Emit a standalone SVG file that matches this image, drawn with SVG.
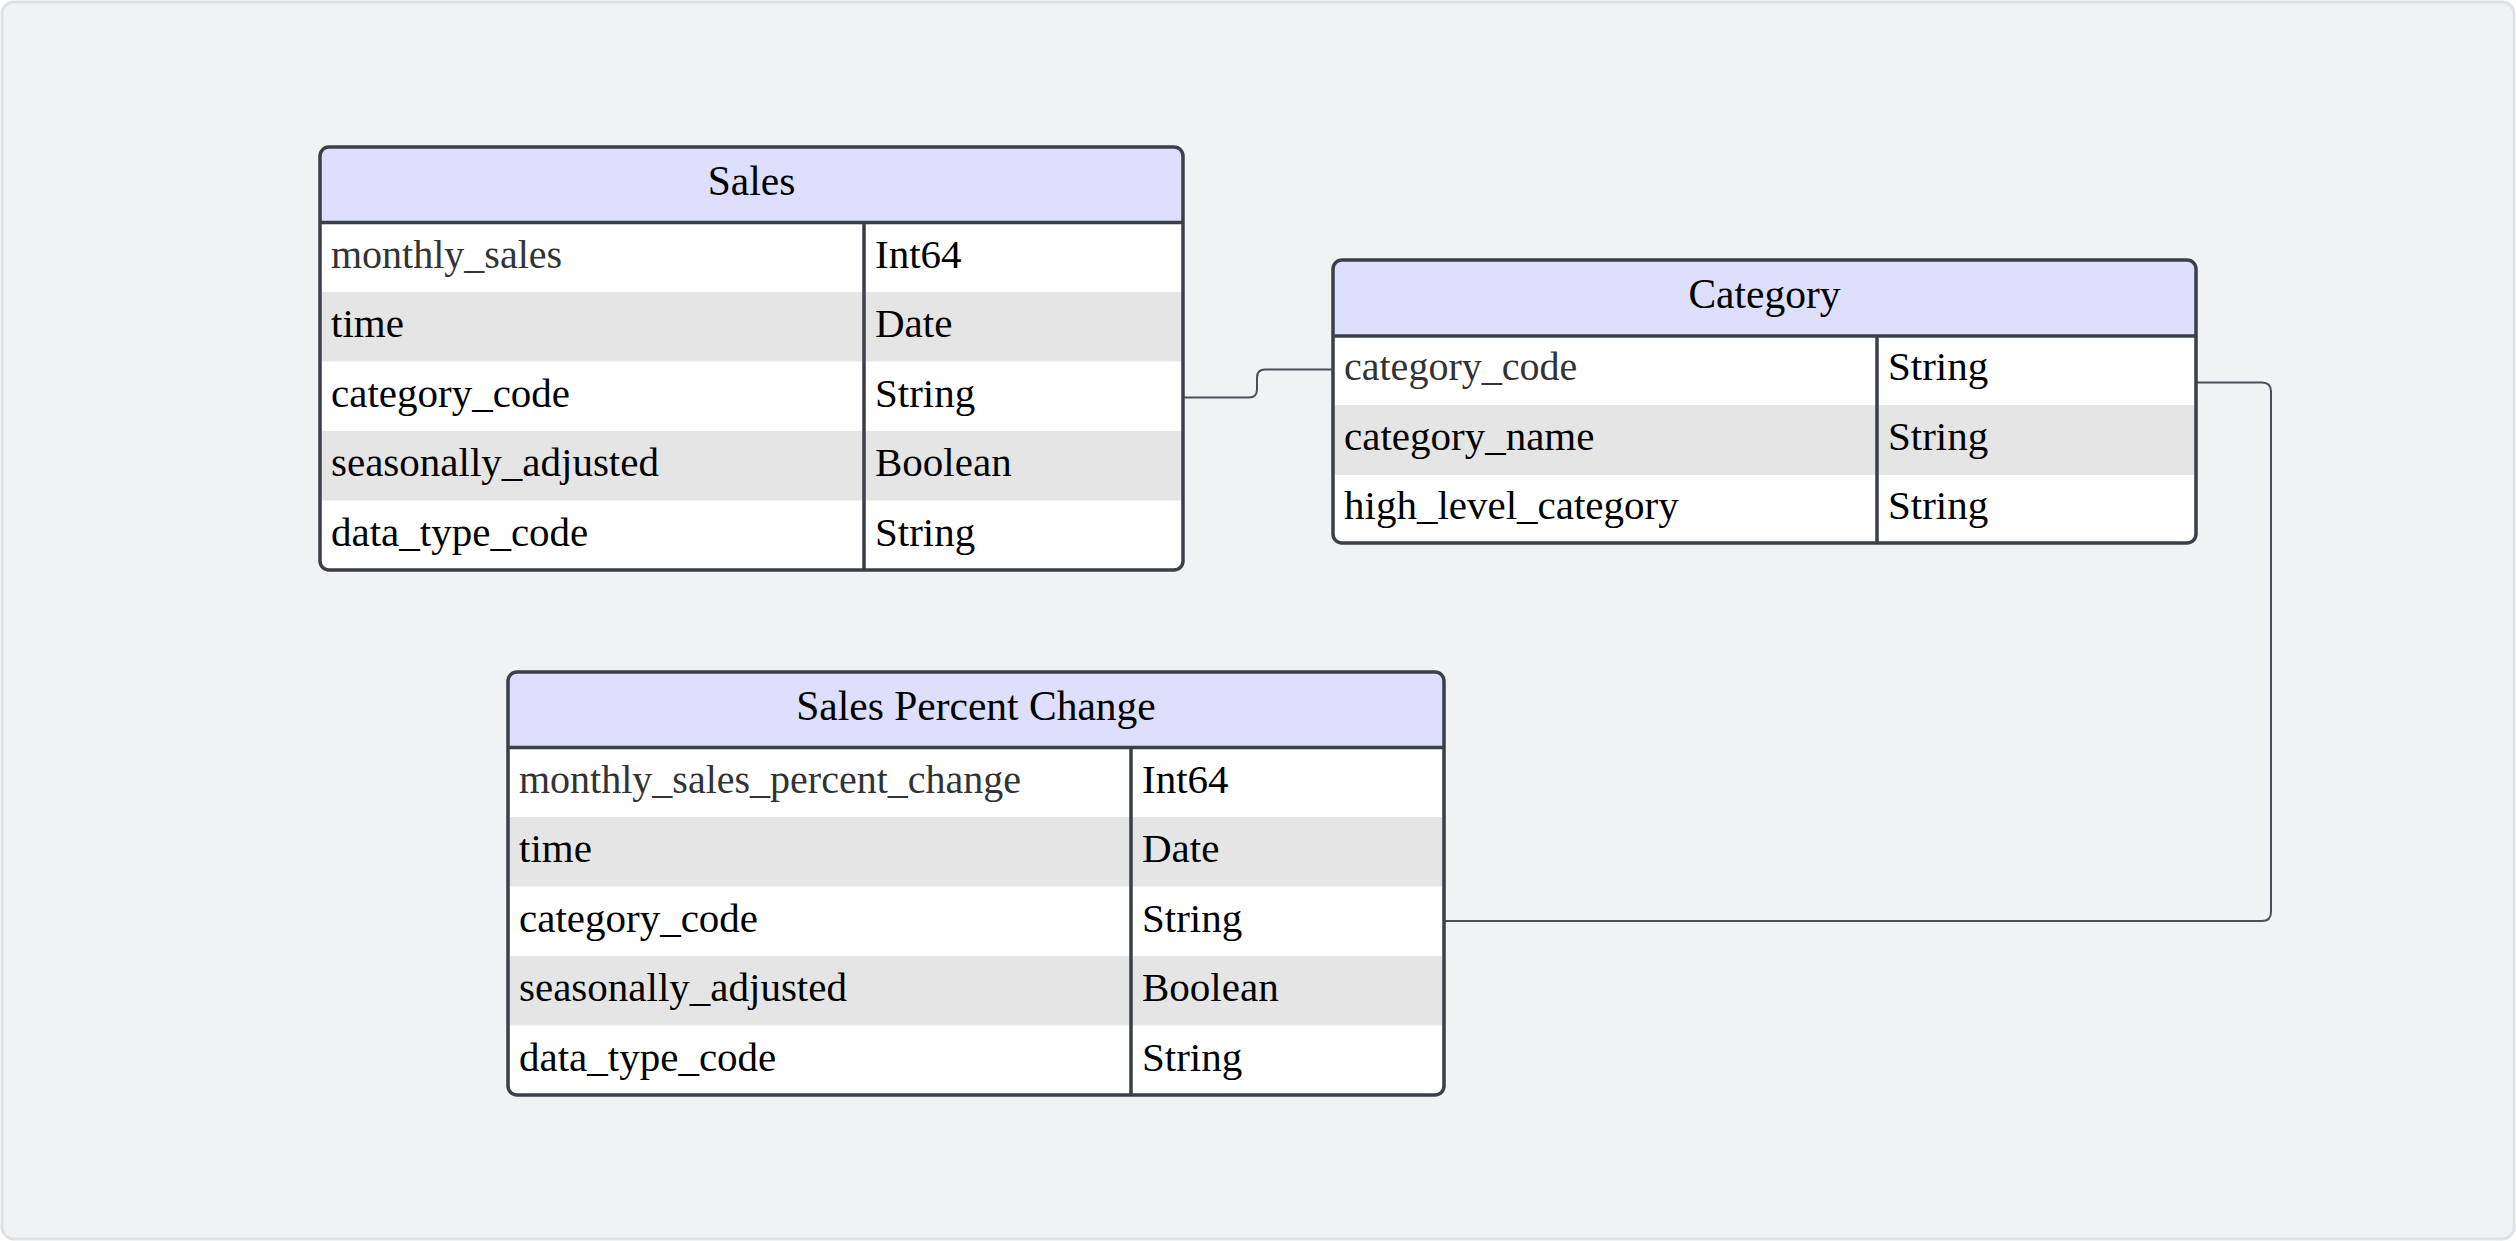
<svg xmlns="http://www.w3.org/2000/svg" width="2516" height="1241" viewBox="0 0 2516 1241">
<style>
.bg{fill:#f1f2f4;stroke:#dfe1e6;stroke-width:3}
.body{fill:#ffffff}
.hdr{fill:#dddffc}
.alt{fill:#e5e5e5}
.frame{fill:none;stroke:#3b3f48;stroke-width:3.5}
.div{stroke:#3b3f48;stroke-width:3.5}
.t{font-size:41px;fill:#000}
.pk{font-size:40px;fill:#333}
.h{font-size:41.5px;fill:#000;text-anchor:middle}
.conn{fill:none;stroke:#4b4f58;stroke-width:2}
</style>
<rect x="0" y="0" width="2516" height="1241" fill="#ffffff"/>
<rect class="bg" x="2" y="2" width="2512" height="1237" rx="12"/>

<g id="connectors">
<path class="conn" d="M1183,397.5 H1249 Q1257,397.5 1257,389.5 V377.5 Q1257,369.5 1265,369.5 H1333"/>
<path class="conn" d="M2196,382.5 H2262 Q2271,382.5 2271,391.5 V912 Q2271,921 2262,921 H1444"/>
</g>

<g id="sales" font-family="Liberation Serif, Tinos, Times New Roman, Times, DejaVu Serif, serif">
<rect class="body" x="320" y="147" width="863" height="423" rx="9"/>
<path class="hdr" d="M320,222.5 V156 Q320,147 329,147 H1174 Q1183,147 1183,156 V222.5 Z"/>
<rect class="alt" x="320" y="292" width="863" height="69.5"/>
<rect class="alt" x="320" y="431" width="863" height="69.5"/>
<line class="div" x1="320" y1="222.5" x2="1183" y2="222.5"/>
<line class="div" x1="864" y1="222.5" x2="864" y2="570"/>
<rect class="frame" x="320" y="147" width="863" height="423" rx="9"/>
<text class="h" x="751.5" y="194.5">Sales</text>
<text class="t pk" x="331" y="267.5">monthly_sales</text><text class="t" x="875" y="267.5">Int64</text>
<text class="t" x="331" y="336.5">time</text><text class="t" x="875" y="336.5">Date</text>
<text class="t" x="331" y="406.5">category_code</text><text class="t" x="875" y="406.5">String</text>
<text class="t" x="331" y="475.5">seasonally_adjusted</text><text class="t" x="875" y="475.5">Boolean</text>
<text class="t" x="331" y="545.5">data_type_code</text><text class="t" x="875" y="545.5">String</text>
</g>

<g id="category" font-family="Liberation Serif, Tinos, Times New Roman, Times, DejaVu Serif, serif">
<rect class="body" x="1333" y="260" width="863" height="283" rx="9"/>
<path class="hdr" d="M1333,336 V269 Q1333,260 1342,260 H2187 Q2196,260 2196,269 V336 Z"/>
<rect class="alt" x="1333" y="405" width="863" height="70"/>
<line class="div" x1="1333" y1="336" x2="2196" y2="336"/>
<line class="div" x1="1877" y1="336" x2="1877" y2="543"/>
<rect class="frame" x="1333" y="260" width="863" height="283" rx="9"/>
<text class="h" x="1764.5" y="307.5">Category</text>
<text class="t pk" x="1344" y="379.5">category_code</text><text class="t" x="1888" y="379.5">String</text>
<text class="t" x="1344" y="449.5">category_name</text><text class="t" x="1888" y="449.5">String</text>
<text class="t" x="1344" y="518.5">high_level_category</text><text class="t" x="1888" y="518.5">String</text>
</g>

<g id="sales_percent_change" font-family="Liberation Serif, Tinos, Times New Roman, Times, DejaVu Serif, serif">
<rect class="body" x="508" y="672" width="936" height="423" rx="9"/>
<path class="hdr" d="M508,747.5 V681 Q508,672 517,672 H1435 Q1444,672 1444,681 V747.5 Z"/>
<rect class="alt" x="508" y="817" width="936" height="69.5"/>
<rect class="alt" x="508" y="956" width="936" height="69.5"/>
<line class="div" x1="508" y1="747.5" x2="1444" y2="747.5"/>
<line class="div" x1="1131" y1="747.5" x2="1131" y2="1095"/>
<rect class="frame" x="508" y="672" width="936" height="423" rx="9"/>
<text class="h" x="976" y="719.5">Sales Percent Change</text>
<text class="t pk" x="519" y="792.5">monthly_sales_percent_change</text><text class="t" x="1142" y="792.5">Int64</text>
<text class="t" x="519" y="861.5">time</text><text class="t" x="1142" y="861.5">Date</text>
<text class="t" x="519" y="931.5">category_code</text><text class="t" x="1142" y="931.5">String</text>
<text class="t" x="519" y="1000.5">seasonally_adjusted</text><text class="t" x="1142" y="1000.5">Boolean</text>
<text class="t" x="519" y="1070.5">data_type_code</text><text class="t" x="1142" y="1070.5">String</text>
</g>
</svg>
